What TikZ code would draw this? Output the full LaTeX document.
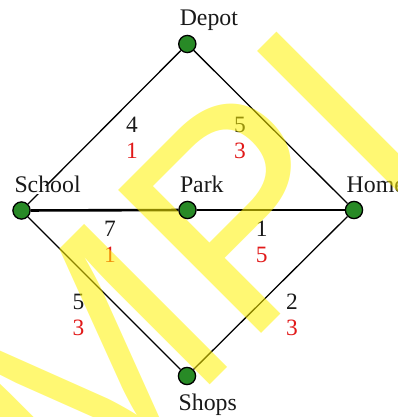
\documentclass[tikz,border=0pt]{standalone}
\usepackage{fontspec}
\setmainfont{Liberation Serif}
\newfontfamily\wmfont{Liberation Sans}
\definecolor{nodegreen}{RGB}{40,138,38}
\definecolor{numred}{RGB}{225,25,25}
\definecolor{txt}{RGB}{25,25,25}
\pgfdeclarelayer{edges}
\pgfdeclarelayer{wm}
\pgfsetlayers{edges,wm,main}
\tikzset{
  vertex/.style={circle, draw=black, line width=1.3pt, fill=nodegreen, minimum size=17.2pt, inner sep=0pt},
  road/.style={draw=black, line width=1.3pt},
  mainroad/.style={draw=black, line width=2.6pt},
  placename/.style={font=\fontsize{23.8}{26}\selectfont, text=txt, fill=white, inner xsep=1pt, inner ysep=0pt,
    text height=0.6em, text depth=0.2em, anchor=base west},
  weights/.style={font=\fontsize{23.4}{26}\selectfont, text=txt, align=center, inner sep=0pt},
  watermark/.style={font=\wmfont\fontsize{294}{300}\selectfont, text=yellow, text opacity=0.55, rotate=45, anchor=base west, inner sep=0pt}
}
\begin{document}
\begin{tikzpicture}[x=1pt,y=-1pt]
\useasboundingbox (0,0) rectangle (398,417);
% places
\node[vertex] (Depot)  at (187.3,44)  {};
\node[vertex] (School) at (21.5,210.5) {};
\node[vertex] (Park)   at (187.5,210) {};
\node[vertex] (Home)   at (354,210)   {};
\node[vertex] (Shops)  at (187,376)   {};
\begin{pgfonlayer}{edges}
  \draw[road] (Depot) -- (School);
  \draw[road] (Depot) -- (Home);
  \draw[mainroad] (School) -- (Park);
  \draw[mainroad] (Park) -- (Home);
  \draw[road] (School) -- (Shops);
  \draw[road] (Home) -- (Shops);
  % place names
  \node[placename] (DepotL)  at ([shift={(-8.7,-18.8)}]Depot.center)  {Depot};
  \node[placename] (SchoolL) at ([shift={(-8.2,-18.3)}]School.center) {School};
  \node[placename] (ParkL)   at ([shift={(-8.7,-18)}]Park.center)     {Park};
  \node[placename] (HomeL)   at ([shift={(-8.5,-18)}]Home.center)     {Home};
  \node[placename] (ShopsL)  at ([shift={(-9.5,34)}]Shops.center)     {Shops};
  % edge weights
  \node[weights] (wDS)  at (132,137.5) {4\\\textcolor{numred}{1}};
  \node[weights] (wDH)  at (240,137.5) {5\\\textcolor{numred}{3}};
  \node[weights] (wSP)  at (110,241.5) {7\\\textcolor{numred}{1}};
  \node[weights] (wPH)  at (261.7,242) {1\\\textcolor{numred}{5}};
  \node[weights] (wSSh) at (78.5,315) {5\\\textcolor{numred}{3}};
  \node[weights] (wHSh) at (292,315.2) {2\\\textcolor{numred}{3}};
\end{pgfonlayer}
\begin{pgfonlayer}{wm}
  \begin{scope}
    \clip (0,0) rectangle (398,417);
    \node[watermark] (wmark) at (-206,801) {SAMPLE};
  \end{scope}
\end{pgfonlayer}
\end{tikzpicture}
\end{document}
